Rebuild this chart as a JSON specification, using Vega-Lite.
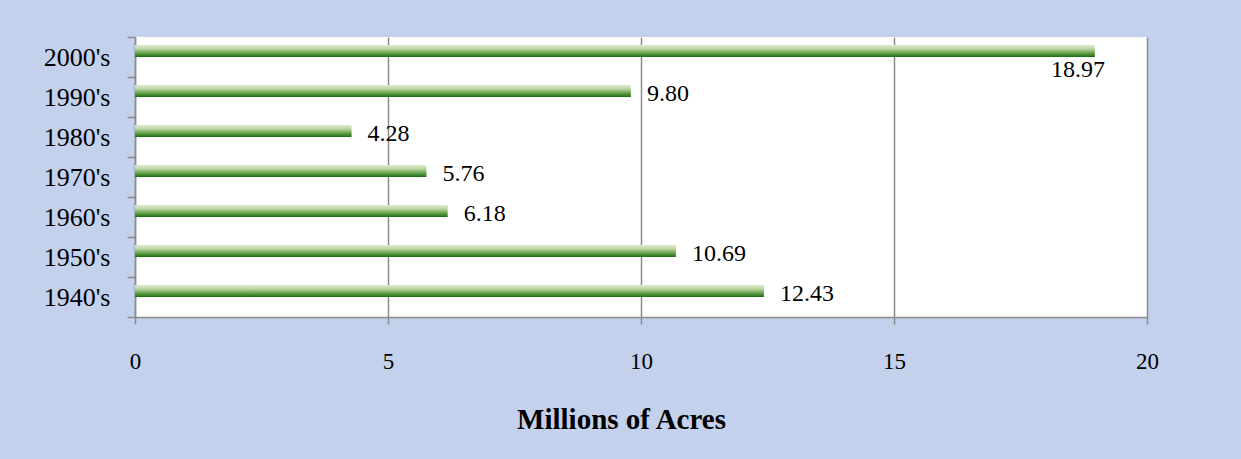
{
  "$schema": "https://vega.github.io/schema/vega-lite/v6.json",
  "autosize": {"type": "none"},
  "padding": {"left": 135, "top": 37, "right": 94, "bottom": 142},
  "width": 1012,
  "height": 280,
  "background": "#c3d1ec",
  "config": {
    "view": {"fill": "#ffffff", "stroke": null},
    "font": "Liberation Serif"
  },
  "data": {
    "values": [
      {"decade": "2000's", "acres": 18.97},
      {"decade": "1990's", "acres": 9.80},
      {"decade": "1980's", "acres": 4.28},
      {"decade": "1970's", "acres": 5.76},
      {"decade": "1960's", "acres": 6.18},
      {"decade": "1950's", "acres": 10.69},
      {"decade": "1940's", "acres": 12.43}
    ]
  },
  "encoding": {
    "y": {
      "field": "decade",
      "type": "nominal",
      "sort": ["2000's", "1990's", "1980's", "1970's", "1960's", "1950's", "1940's"],
      "scale": {"paddingInner": 0, "paddingOuter": 0},
      "axis": {
        "title": null,
        "domainColor": "#8c8c8c",
        "domainWidth": 1.5,
        "tickColor": "#8c8c8c",
        "tickWidth": 1.5,
        "tickSize": 8,
        "tickBand": "extent",
        "labelFont": "Liberation Serif",
        "labelFontSize": 26,
        "labelColor": "#000000",
        "labelPadding": 17,
        "labelBaseline": "middle"
      }
    },
    "x": {
      "field": "acres",
      "type": "quantitative",
      "scale": {"domain": [0, 20], "nice": false},
      "axis": {
        "values": [0, 5, 10, 15, 20],
        "title": "Millions of Acres",
        "titleFont": "Liberation Serif",
        "titleFontSize": 29,
        "titleFontWeight": "bold",
        "titleColor": "#000000",
        "titlePadding": 32,
        "titleX": 486,
        "grid": true,
        "gridColor": "#8c8c8c",
        "gridWidth": 1.5,
        "domainColor": "#8c8c8c",
        "domainWidth": 1.5,
        "tickColor": "#8c8c8c",
        "tickWidth": 1.5,
        "tickSize": 7,
        "labelFont": "Liberation Serif",
        "labelFontSize": 23,
        "labelColor": "#000000",
        "labelPadding": 26,
        "labelFlush": false
      }
    }
  },
  "layer": [
    {
      "mark": {
        "type": "bar",
        "height": 12,
        "yOffset": -6,
        "color": {
          "gradient": "linear",
          "x1": 0, "y1": 0, "x2": 0, "y2": 1,
          "stops": [
            {"offset": 0, "color": "#e2ecd4"},
            {"offset": 0.35, "color": "#b4d29a"},
            {"offset": 0.7, "color": "#5f9e45"},
            {"offset": 1, "color": "#1b6a14"}
          ]
        }
      }
    },
    {
      "transform": [{"filter": "datum.acres < 15"}],
      "mark": {
        "type": "text",
        "align": "left",
        "baseline": "middle",
        "dx": 16,
        "dy": -3,
        "font": "Liberation Serif",
        "fontSize": 24,
        "color": "#000000"
      },
      "encoding": {"text": {"field": "acres", "type": "quantitative", "format": ".2f"}}
    },
    {
      "transform": [{"filter": "datum.acres >= 15"}],
      "mark": {
        "type": "text",
        "align": "right",
        "baseline": "middle",
        "dx": 10,
        "dy": 13,
        "font": "Liberation Serif",
        "fontSize": 24,
        "color": "#000000"
      },
      "encoding": {"text": {"field": "acres", "type": "quantitative", "format": ".2f"}}
    }
  ]
}
